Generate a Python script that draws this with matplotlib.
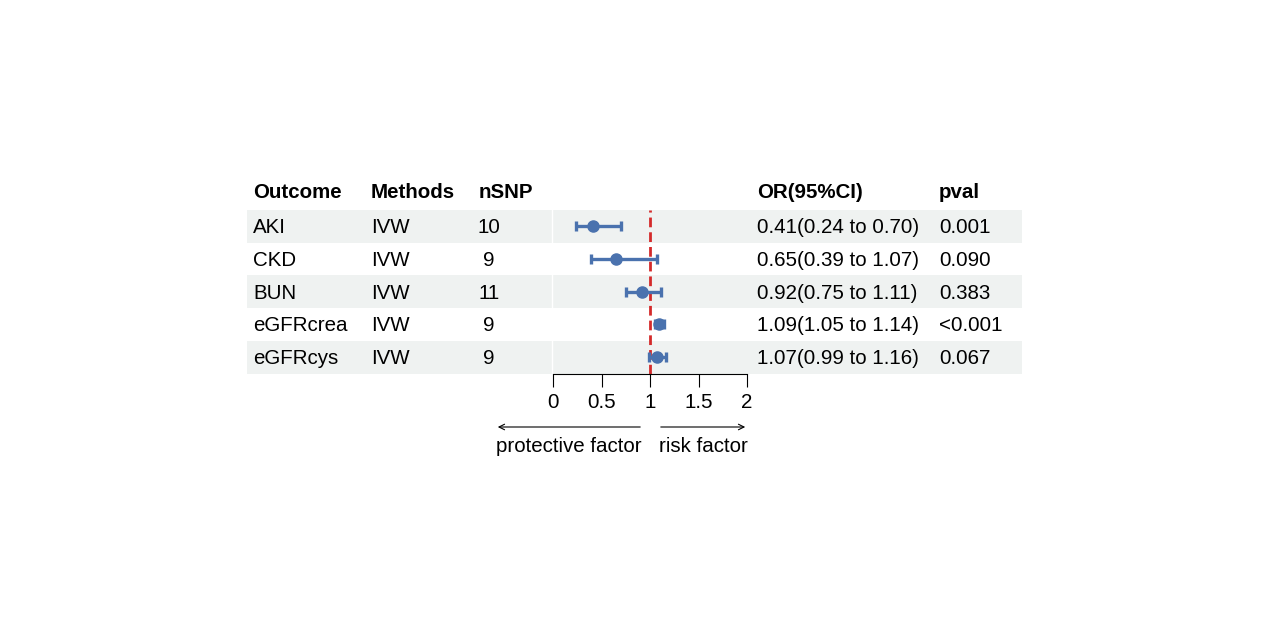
import matplotlib.pyplot as plt
from matplotlib.patches import Rectangle

# data
outcomes = ['AKI', 'CKD', 'BUN', 'eGFRcrea', 'eGFRcys']
methods = ['IVW', 'IVW', 'IVW', 'IVW', 'IVW']
nsnp = [10, 9, 11, 9, 9]
or_est = [0.41, 0.65, 0.92, 1.09, 1.07]
ci_low = [0.24, 0.39, 0.75, 1.05, 0.99]
ci_high = [0.70, 1.07, 1.11, 1.14, 1.16]
pvals = ['0.001', '0.090', '0.383', '<0.001', '0.067']
xticks = [0, 0.5, 1, 1.5, 2]
xticklabels = ['0', '0.5', '1', '1.5', '2']

plt.rcParams['font.family'] = ['Liberation Sans', 'DejaVu Sans']
W, H = 1269, 635
fs = 14.8
blue = '#4A72AE'
band = '#EFF2F1'

fig = plt.figure(figsize=(W / 100, H / 100), dpi=100)
fig.set_facecolor('white')

# background axes in pixel units for the table text and bands
bg = fig.add_axes([0, 0, 1, 1])
bg.set_xlim(0, W)
bg.set_ylim(H, 0)
bg.axis('off')

row_top = 210
row_h = 32.7
n = len(outcomes)
for i in range(n):
    if i % 2 == 0:
        bg.add_patch(Rectangle((247, row_top + i * row_h), 1022 - 247, row_h,
                               facecolor=band, edgecolor='none', zorder=0))
bg.plot([552, 552], [row_top, row_top + n * row_h], color='white', lw=1, zorder=1)

# header
hy = 192
for x, lab in [(253, 'Outcome'), (371, 'Methods'), (479, 'nSNP'),
               (757, 'OR(95%CI)'), (939, 'pval')]:
    bg.text(x, hy, lab, fontsize=fs, fontweight='bold', va='center', ha='left')

for i in range(n):
    y = row_top + (i + 0.5) * row_h + 1.5
    bg.text(253, y, outcomes[i], fontsize=fs, va='center', ha='left')
    bg.text(371, y, methods[i], fontsize=fs, va='center', ha='left')
    bg.text(489, y, str(nsnp[i]), fontsize=fs, va='center', ha='center')
    txt = f'{or_est[i]:.2f}({ci_low[i]:.2f} to {ci_high[i]:.2f})'
    bg.text(757, y, txt, fontsize=fs, va='center', ha='left')
    bg.text(939, y, pvals[i], fontsize=fs, va='center', ha='left')

# arrows and factor labels under the axis
bg.annotate('', xy=(495, 427), xytext=(643, 427),
            arrowprops=dict(arrowstyle='->', lw=0.8, color='black'))
bg.annotate('', xy=(748, 427), xytext=(658, 427),
            arrowprops=dict(arrowstyle='->', lw=0.8, color='black'))
bg.text(569, 446, 'protective factor', fontsize=fs, va='center', ha='center')
bg.text(703, 446, 'risk factor', fontsize=fs, va='center', ha='center')

# forest axes
left, right = 553 / W, 747 / W
bottom = 1 - (row_top + n * row_h) / H
top = 1 - row_top / H
ax = fig.add_axes([left, bottom, right - left, top - bottom])
ax.set_facecolor('none')
ax.set_xlim(0, 2)
ax.set_ylim(n - 0.5, -0.5)
ax.axvline(1, color='#D42A2A', lw=2, dashes=(3.5, 1.8), zorder=1)

ys = list(range(n))
err = [[e - l for e, l in zip(or_est, ci_low)], [h - e for e, h in zip(or_est, ci_high)]]
ax.errorbar(or_est, ys, xerr=err, fmt='o', color=blue, ms=8, lw=2.4,
            capsize=3.8, capthick=2.4, zorder=3)

for s in ['top', 'left', 'right']:
    ax.spines[s].set_visible(False)
ax.spines['bottom'].set_linewidth(0.8)
ax.set_yticks([])
ax.set_xticks(xticks)
ax.set_xticklabels(xticklabels, fontsize=fs)
ax.tick_params(axis='x', length=9, width=0.8, pad=5)

fig.savefig('out.png', dpi=100, facecolor='white')
